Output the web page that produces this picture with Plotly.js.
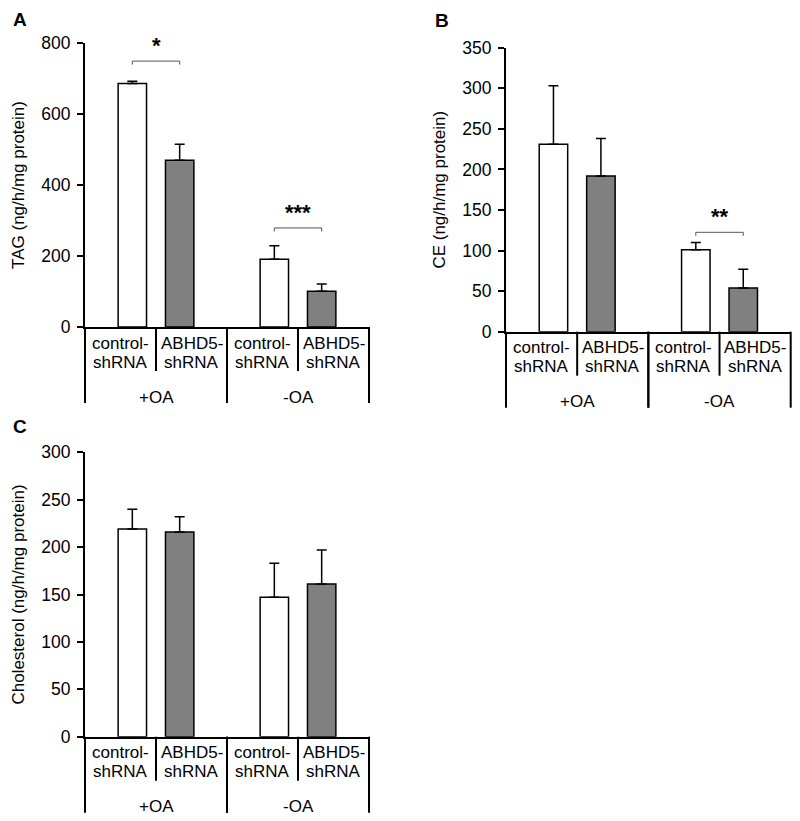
<!DOCTYPE html>
<html><head><meta charset="utf-8">
<script src="https://cdn.plot.ly/plotly-3.0.1.min.js"></script>
<style>html,body{margin:0;padding:0;background:#fff}#chart{width:800px;height:821px}</style>
</head><body><div id="chart"></div>
<script>
// ---- data ----
const categories = ["control-shRNA", "ABHD5-shRNA", "control-shRNA", "ABHD5-shRNA"];
const groups = ["+OA", "-OA"];
const tagMean = [686, 470, 191, 101];
const tagErr = [6, 45, 38, 20];
const ceMean = [231, 192, 101, 54];
const ceErr = [72, 46, 9, 23];
const cholMean = [219, 216, 147, 161];
const cholErr = [21, 16, 36, 36];
const tagSigPairs = [[0, 1], [2, 3]];
const tagSigLevels = [749, 279];
const tagSigLabels = ["*", "***"];
const ceSigPairs = [[2, 3]];
const ceSigLevels = [122.5];
const ceSigLabels = ["**"];
const cholSigPairs = [];
const cholSigLevels = [];
const cholSigLabels = [];
const panelLetters = ["A", "B", "C"];
const yTitles = ["TAG (ng/h/mg protein)", "CE (ng/h/mg protein)", "Cholesterol (ng/h/mg protein)"];
const yRanges = [[0, 800], [0, 350], [0, 300]];
const yDticks = [200, 50, 50];

// ---- layout / style ----
const W = 800, H = 821;
const FONT = "Liberation Sans, Arial, sans-serif";
const panels = [
  {mean: tagMean, err: tagErr, sp: tagSigPairs, sl: tagSigLevels, st: tagSigLabels,
   xd: [85 / W, 369 / W], yd: [1 - 327 / H, 1 - 43 / H], letter: [20, 19]},
  {mean: ceMean, err: ceErr, sp: ceSigPairs, sl: ceSigLevels, st: ceSigLabels,
   xd: [506 / W, 790.7 / W], yd: [1 - 331.7 / H, 1 - 47.7 / H], letter: [442, 21]},
  {mean: cholMean, err: cholErr, sp: cholSigPairs, sl: cholSigLevels, st: cholSigLabels,
   xd: [85 / W, 369 / W], yd: [1 - 736.7 / H, 1 - 452.3 / H], letter: [20, 427]}
];
const xRange = [-1, 5];
function xpos(i) { return Math.floor(i / 2) * 3 + (i % 2); }
const barColors = categories.map((c, i) => i % 2 === 0 ? "#ffffff" : "#808080");

const data = [];
const layout = {
  width: W, height: H, margin: {l: 0, r: 0, t: 0, b: 0},
  paper_bgcolor: "#fff", plot_bgcolor: "rgba(0,0,0,0)",
  showlegend: false, font: {family: FONT, color: "#000", size: 17},
  shapes: [], annotations: []
};

panels.forEach((p, k) => {
  const sfx = k === 0 ? "" : String(k + 1);
  const xa = "x" + sfx, ya = "y" + sfx;
  const plotH = (p.yd[1] - p.yd[0]) * H;
  data.push({
    type: "bar", xaxis: xa, yaxis: ya,
    x: categories.map((c, i) => xpos(i)), y: p.mean,
    width: 0.6,
    marker: {color: barColors, line: {color: "#000", width: 1.5}},
    error_y: {type: "data", symmetric: false, array: p.err, arrayminus: p.err.map(() => 0),
              color: "#000", thickness: 1.5, width: 5},
    text: categories, hoverinfo: "y+text", textposition: "none"
  });
  layout["xaxis" + sfx] = {
    domain: p.xd, anchor: ya, range: xRange, showline: true, linewidth: 2, linecolor: "#000",
    showticklabels: false, ticks: "", showgrid: false, zeroline: false, fixedrange: true
  };
  layout["yaxis" + sfx] = {
    domain: p.yd, anchor: xa, range: yRanges[k], dtick: yDticks[k], tick0: 0,
    showline: true, linewidth: 2, linecolor: "#000",
    ticks: "outside", ticklen: 6, tickwidth: 2, tickcolor: "#000",
    tickfont: {size: 17.5, family: FONT, color: "#000"}, ticklabelstandoff: 3,
    showgrid: false, zeroline: false, fixedrange: true, automargin: false,
    title: {text: yTitles[k], font: {size: 17, family: FONT, color: "#000"}, standoff: 12}
  };
  // category-axis dividers and labels
  const frac = v => (v - xRange[0]) / (xRange[1] - xRange[0]);
  groups.forEach((g, gi) => {
    const left = gi * 3 - 1, right = gi * 3 + 2, mid = gi * 3 + 0.5;
    [left, right].forEach(v => layout.shapes.push({
      type: "line", xref: xa + " domain", yref: ya + " domain",
      x0: frac(v), x1: frac(v), y0: 0, y1: -76 / plotH, line: {color: "#000", width: 2}
    }));
    layout.shapes.push({
      type: "line", xref: xa + " domain", yref: ya + " domain",
      x0: frac(mid), x1: frac(mid), y0: 0, y1: -44 / plotH, line: {color: "#000", width: 2}
    });
    layout.annotations.push({
      xref: xa, yref: ya + " domain", x: mid, y: -70 / plotH, yanchor: "middle",
      text: g, showarrow: false, font: {size: 17, family: FONT, color: "#000"}
    });
  });
  categories.forEach((c, i) => {
    const g = Math.floor(i / 2);
    const cx = i % 2 === 0 ? g * 3 - 0.25 : g * 3 + 1.25;
    const parts = c.split("-");
    layout.annotations.push({
      xref: xa, yref: ya + " domain", x: cx, y: -16 / plotH, yanchor: "middle",
      text: parts[0] + "-", showarrow: false, font: {size: 17, family: FONT, color: "#000"}
    });
    layout.annotations.push({
      xref: xa, yref: ya + " domain", x: cx, y: -35 / plotH, yanchor: "middle",
      text: parts[1], showarrow: false, font: {size: 17, family: FONT, color: "#000"}
    });
  });
  // significance brackets
  p.sp.forEach((pr, j) => {
    const x0 = xpos(pr[0]), x1 = xpos(pr[1]);
    layout.shapes.push({
      type: "path", xref: xa, yref: ya, ysizemode: "pixel", yanchor: p.sl[j],
      path: `M${x0},-3.5 L${x0},0 L${x1},0 L${x1},-3.5`,
      line: {color: "#555", width: 1}
    });
    layout.annotations.push({
      xref: xa, yref: ya, x: (x0 + x1) / 2, y: p.sl[j], yanchor: "bottom", yshift: 1,
      text: "<b>" + p.st[j] + "</b>", showarrow: false, font: {size: 22, family: FONT, color: "#000"}
    });
  });
  // panel letter
  layout.annotations.push({
    xref: "paper", yref: "paper", x: p.letter[0] / W, y: 1 - p.letter[1] / H,
    xanchor: "center", yanchor: "middle", showarrow: false,
    text: "<b>" + panelLetters[k] + "</b>", font: {size: 19, family: FONT, color: "#000"}
  });
});

Plotly.newPlot("chart", data, layout, {staticPlot: true, displayModeBar: false});
</script>
</body></html>
